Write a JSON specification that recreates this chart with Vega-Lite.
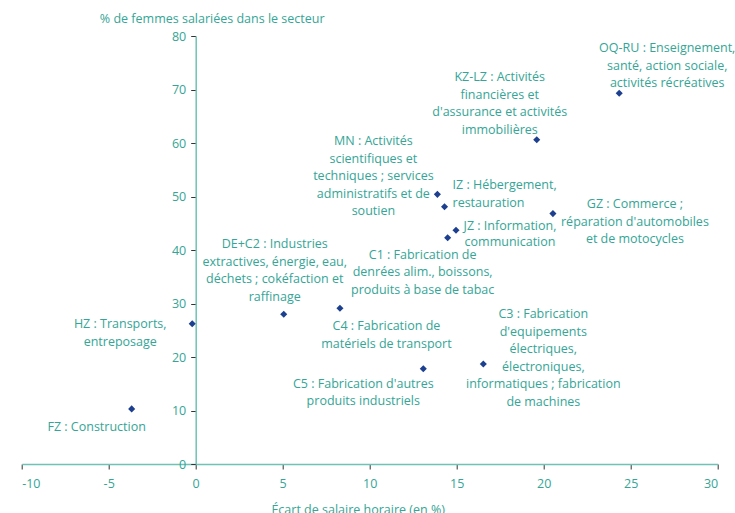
{
  "$schema": "https://vega.github.io/schema/vega-lite/v6.json",
  "width": 696,
  "height": 428,
  "autosize": {"type": "none"},
  "padding": {"left": 21.7, "top": 36, "right": 17.3, "bottom": 49},
  "config": {
    "font": "Open Sans",
    "view": {"stroke": null},
    "text": {"font": "Open Sans", "fontSize": 12.5, "fill": "#34a596", "baseline": "alphabetic", "lineHeight": 17.5}
  },
  "data": {
    "values": [
      {"code": "FZ", "ecart": -3.68, "femmes": 10.3, "label": ["FZ : Construction"]},
      {"code": "HZ", "ecart": -0.2, "femmes": 26.2, "label": ["HZ : Transports,", "entreposage"]},
      {"code": "DE+C2", "ecart": 5.06, "femmes": 28.0, "label": ["DE+C2 : Industries", "extractives, énergie, eau,", "déchets ; cokéfaction et", "raffinage"]},
      {"code": "C4", "ecart": 8.29, "femmes": 29.1, "label": ["C4 : Fabrication de", "matériels de transport"]},
      {"code": "C5", "ecart": 13.08, "femmes": 17.8, "label": ["C5 : Fabrication d'autres", "produits industriels"]},
      {"code": "C3", "ecart": 16.53, "femmes": 18.7, "label": ["C3 : Fabrication", "d'equipements", "électriques,", "électroniques,", "informatiques ; fabrication", "de machines"]},
      {"code": "C1", "ecart": 14.48, "femmes": 42.3, "label": ["C1 : Fabrication de", "denrées alim., boissons,", "produits à base de tabac"]},
      {"code": "JZ", "ecart": 14.96, "femmes": 43.7, "label": ["JZ : Information,", "communication"]},
      {"code": "IZ", "ecart": 14.3, "femmes": 48.1, "label": ["IZ : Hébergement,", "restauration"]},
      {"code": "MN", "ecart": 13.89, "femmes": 50.4, "label": ["MN : Activités", "scientifiques et", "techniques ; services", "administratifs et de", "soutien"]},
      {"code": "GZ", "ecart": 20.53, "femmes": 46.8, "label": ["GZ : Commerce ;", "réparation d'automobiles", "et de motocycles"]},
      {"code": "KZ-LZ", "ecart": 19.6, "femmes": 60.6, "label": ["KZ-LZ : Activités", "financières et", "d'assurance et activités", "immobilières"]},
      {"code": "OQ-RU", "ecart": 24.34, "femmes": 69.3, "label": ["OQ-RU : Enseignement,", "santé, action sociale,", "activités récréatives"]}
    ]
  },
  "encoding": {
    "x": {
      "field": "ecart", "type": "quantitative",
      "scale": {"domain": [-10, 30], "nice": false, "zero": false},
      "axis": {
        "values": [-10, -5, 0, 5, 10, 15, 20, 25, 30],
        "labelExpr": "replace(datum.label, '−', '-')",
        "grid": false,
        "title": "Écart de salaire horaire (en %)",
        "domainColor": "#6fc2b6", "domainWidth": 1.5,
        "tickColor": "#333333", "tickSize": 5, "tickWidth": 1,
        "labelColor": "#34a596", "labelFontSize": 12.5, "labelPadding": 8, "labelFont": "Open Sans",
        "titleColor": "#34a596", "titleFontSize": 12.5, "titleFontWeight": "normal", "titleFont": "Open Sans",
        "titleX": 336, "titleY": 39, "titleBaseline": "top", "titleAlign": "center", "titleAnchor": "start"
      }
    },
    "y": {
      "field": "femmes", "type": "quantitative",
      "scale": {"domain": [0, 80], "nice": false},
      "axis": {
        "values": [0, 10, 20, 30, 40, 50, 60, 70, 80],
        "grid": false,
        "offset": -174,
        "title": "% de femmes salariées dans le secteur",
        "domainColor": "#6fc2b6", "domainWidth": 1.5,
        "tickColor": "#333333", "tickSize": 5, "tickWidth": 1,
        "labelColor": "#34a596", "labelFontSize": 12.5, "labelPadding": 5, "labelFont": "Open Sans",
        "titleColor": "#34a596", "titleFontSize": 12.5, "titleFontWeight": "normal", "titleFont": "Open Sans",
        "titleAngle": 0, "titleX": 16, "titleY": -14, "titleAlign": "center", "titleBaseline": "alphabetic", "titleAnchor": "start"
      }
    }
  },
  "layer": [
    {"mark": {"type": "point", "shape": "diamond", "filled": true, "size": 50, "color": "#1c3f8f", "opacity": 1}},
    {"transform": [{"filter": "datum.code == 'FZ'"}], "mark": {"type": "text", "align": "center", "dx": -35, "dy": 22}, "encoding": {"text": {"field": "label"}}},
    {"transform": [{"filter": "datum.code == 'HZ'"}], "mark": {"type": "text", "align": "center", "dx": -72, "dy": 4.5}, "encoding": {"text": {"field": "label"}}},
    {"transform": [{"filter": "datum.code == 'DE+C2'"}], "mark": {"type": "text", "align": "center", "dx": -9, "dy": -66}, "encoding": {"text": {"field": "label"}}},
    {"transform": [{"filter": "datum.code == 'C4'"}], "mark": {"type": "text", "align": "center", "dx": 46.5, "dy": 22}, "encoding": {"text": {"field": "label"}}},
    {"transform": [{"filter": "datum.code == 'C5'"}], "mark": {"type": "text", "align": "center", "dx": -60, "dy": 19}, "encoding": {"text": {"field": "label"}}},
    {"transform": [{"filter": "datum.code == 'C3'"}], "mark": {"type": "text", "align": "center", "dx": 60, "dy": -45.5}, "encoding": {"text": {"field": "label"}}},
    {"transform": [{"filter": "datum.code == 'C1'"}], "mark": {"type": "text", "align": "center", "dx": -25, "dy": 21}, "encoding": {"text": {"field": "label"}}},
    {"transform": [{"filter": "datum.code == 'JZ'"}], "mark": {"type": "text", "align": "center", "dx": 54, "dy": 0, "lineHeight": 15.5}, "encoding": {"text": {"field": "label"}}},
    {"transform": [{"filter": "datum.code == 'IZ'"}], "mark": {"type": "text", "align": "left", "dx": 8, "dy": -17.5}, "encoding": {"text": {"field": "label"}}},
    {"transform": [{"filter": "datum.code == 'MN'"}], "mark": {"type": "text", "align": "center", "dx": -64, "dy": -49}, "encoding": {"text": {"field": "label"}}},
    {"transform": [{"filter": "datum.code == 'GZ'"}], "mark": {"type": "text", "align": "center", "dx": 82, "dy": -5.5}, "encoding": {"text": {"field": "label"}}},
    {"transform": [{"filter": "datum.code == 'KZ-LZ'"}], "mark": {"type": "text", "align": "center", "dx": -37, "dy": -58.5}, "encoding": {"text": {"field": "label"}}},
    {"transform": [{"filter": "datum.code == 'OQ-RU'"}], "mark": {"type": "text", "align": "center", "dx": 48, "dy": -41}, "encoding": {"text": {"field": "label"}}}
  ]
}
